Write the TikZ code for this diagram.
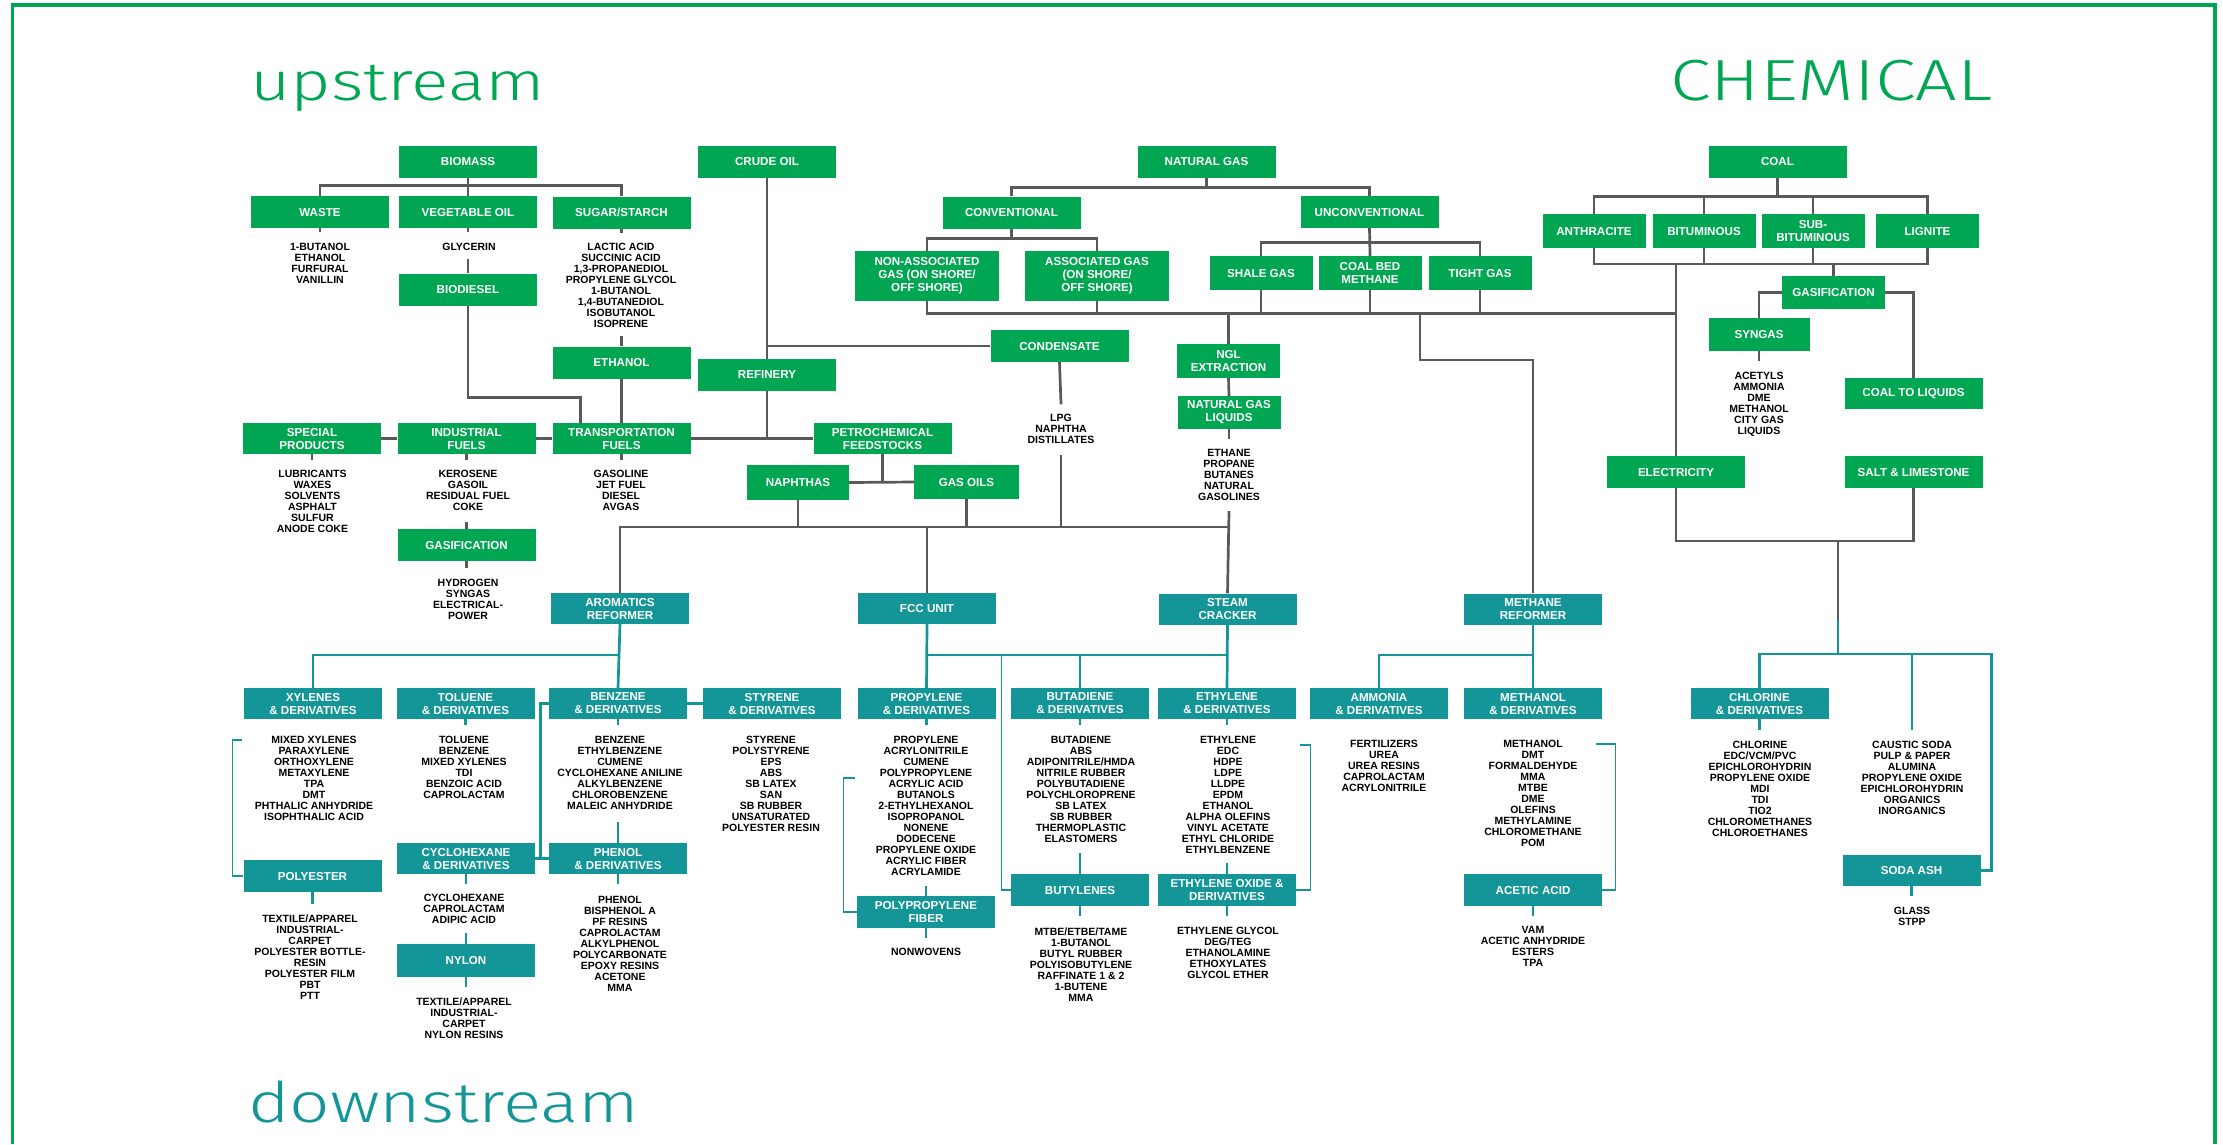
\documentclass[tikz,border=0pt]{standalone}
\usepackage{fontspec}
\setmainfont{Liberation Sans}
\IfFontExistsTF{Fira Sans Book}{\newfontfamily\titlefont{Fira Sans Book}}{%
  \IfFontExistsTF{Fira Sans Light}{\newfontfamily\titlefont{Fira Sans Light}}{\newfontfamily\titlefont{Open Sans}}}
\usetikzlibrary{calc}
\definecolor{upgreen}{RGB}{0,166,81}
\definecolor{downteal}{RGB}{20,150,152}
\definecolor{waygray}{RGB}{88,89,91}
\newcommand{\boxfont}{\fontsize{11.6}{13}\selectfont\bfseries}
\newcommand{\itemfont}{\fontsize{10.5}{11}\selectfont\bfseries}
\tikzset{
  upbox/.style={fill=upgreen, text=white, font=\boxfont, align=center,
    inner sep=0pt, minimum width=138pt, minimum height=32pt},
  upsmall/.style={upbox, minimum width=103pt, minimum height=34pt},
  downbox/.style={upbox, fill=downteal, minimum height=31pt},
  items/.style={font=\itemfont, align=center, inner sep=0pt, anchor=north, yshift=3.7pt},
  way/.style={draw=waygray, line width=2.7pt},
  dway/.style={draw=downteal, line width=2.7pt},
  dthin/.style={draw=downteal, line width=1.3pt},
  headline/.style={inner sep=0pt, anchor=base west},
}
\begin{document}
\begin{tikzpicture}[x=1pt,y=-1pt]
    \useasboundingbox (0,0) rectangle (2223,1144);
    % Frame
    \draw[upgreen, line width=3.3pt] (12.5,1144) -- (12.5,5) -- (2215,5) -- (2215,1144);
    % Titles
    \node[headline, text=upgreen] (up) at (250,100) {\resizebox{295pt}{\height}{\fontsize{54}{60}\titlefont upstream}};
    \node[headline, text=upgreen] (chem) at (1670,100) {\resizebox{322pt}{\height}{\fontsize{58}{64}\titlefont CHEMICAL}};
    \node[headline, text=downteal] (down) at (248,1122) {\resizebox{391pt}{\height}{\fontsize{56}{62}\titlefont downstream}};
    % Points
    \coordinate (gasbus) at (1420,313);
    \coordinate (coalbus) at (1760,264);
    \coordinate (feedbus) at (926,527);
    \coordinate (aromfork) at (620,655);
    \coordinate (saltbus) at (1838,541);
    \coordinate (chlorbus) at (1838,654);
    % Boxes (upstream)
    \node[upbox] (bio) at (468,162) {BIOMASS};
    \node[upbox] (waste) at (320,212) {WASTE};
    \node[upbox] (veg) at (468,212) {VEGETABLE OIL};
    \node[upbox] (sugar) at (621.5,212.5) {SUGAR/STARCH};
    \node[upbox] (biod) at (468,289.5) {BIODIESEL};
    \node[upbox] (ethanol) at (621.5,362.5) {ETHANOL};
    \node[upbox] (crude) at (767,162) {CRUDE OIL};
    \node[upbox] (refinery) at (767,375) {REFINERY};
    \node[upbox] (natgas) at (1206.5,162) {NATURAL GAS};
    \node[upbox] (conv) at (1011.5,212.5) {CONVENTIONAL};
    \node[upbox] (unconv) at (1369.5,212) {UNCONVENTIONAL};
    \node[upbox, minimum width=144pt, minimum height=50pt] (nonassoc) at (927,276) {NON-ASSOCIATED\\GAS (ON SHORE/\\OFF SHORE)};
    \node[upbox, minimum width=144pt, minimum height=50pt] (assoc) at (1097,276) {ASSOCIATED GAS\\(ON SHORE/\\OFF SHORE)};
    \node[upsmall] (shale) at (1261,273) {SHALE GAS};
    \node[upsmall] (cbm) at (1370,273) {COAL BED\\METHANE};
    \node[upsmall] (tight) at (1480,273) {TIGHT GAS};
    \node[upbox] (condensate) at (1059.5,346) {CONDENSATE};
    \node[upsmall] (nglx) at (1228.5,361) {NGL\\EXTRACTION};
    \node[upsmall, minimum height=33pt] (ngl) at (1229,412.5) {NATURAL GAS\\LIQUIDS};
    \node[upbox, minimum height=31pt] (special) at (312,438.5) {SPECIAL\\PRODUCTS};
    \node[upbox, minimum height=31pt] (indfuel) at (466.5,438.5) {INDUSTRIAL\\FUELS};
    \node[upbox, minimum height=31pt] (transp) at (621.5,438.5) {TRANSPORTATION\\FUELS};
    \node[upbox, minimum height=31pt] (petro) at (882.5,438.5) {PETROCHEMICAL\\FEEDSTOCKS};
    \node[upsmall, minimum width=102pt, minimum height=35pt] (naphthas) at (798,482.5) {NAPHTHAS};
    \node[upsmall, minimum width=105pt] (gasoils) at (966.5,482) {GAS OILS};
    \node[upbox] (gasif) at (466.5,545) {GASIFICATION};
    \node[upbox] (coal) at (1777.5,162) {COAL};
    \node[upsmall] (anthr) at (1594,231) {ANTHRACITE};
    \node[upsmall] (bitum) at (1704,231) {BITUMINOUS};
    \node[upsmall] (subbit) at (1813,231) {SUB-\\BITUMINOUS};
    \node[upsmall] (lignite) at (1927.5,231) {LIGNITE};
    \node[upsmall, minimum height=33pt] (cgasif) at (1833.5,292.5) {GASIFICATION};
    \node[upsmall, minimum width=101pt, minimum height=33pt] (syngas) at (1759,334.5) {SYNGAS};
    \node[upbox, minimum height=31pt] (ctl) at (1913.5,393.5) {COAL TO LIQUIDS};
    \node[upbox] (elec) at (1676,472) {ELECTRICITY};
    \node[upbox] (salt) at (1913.5,472) {SALT \& LIMESTONE};
    % Boxes (downstream)
    \node[downbox] (arom) at (620,608.5) {AROMATICS\\REFORMER};
    \node[downbox] (fcc) at (927,608.5) {FCC UNIT};
    \node[downbox] (steam) at (1227.5,609) {STEAM\\CRACKER};
    \node[downbox] (methref) at (1533,609) {METHANE\\REFORMER};
    \node[downbox] (xyl) at (313,703.5) {XYLENES\\\& DERIVATIVES};
    \node[downbox] (tol) at (465.5,703.5) {TOLUENE\\\& DERIVATIVES};
    \node[downbox] (benz) at (618,703.5) {BENZENE\\\& DERIVATIVES};
    \node[downbox] (styr) at (772,703.5) {STYRENE\\\& DERIVATIVES};
    \node[downbox] (prop) at (926.5,703.5) {PROPYLENE\\\& DERIVATIVES};
    \node[downbox] (butad) at (1080,703.5) {BUTADIENE\\\& DERIVATIVES};
    \node[downbox] (ethyl) at (1227,703.5) {ETHYLENE\\\& DERIVATIVES};
    \node[downbox] (ammon) at (1379,703.5) {AMMONIA\\\& DERIVATIVES};
    \node[downbox] (methan) at (1533,703.5) {METHANOL\\\& DERIVATIVES};
    \node[downbox] (chlor) at (1759.5,703.5) {CHLORINE\\\& DERIVATIVES};
    \node[downbox, minimum height=32pt] (polyest) at (312.5,876) {POLYESTER};
    \node[downbox] (cyclo) at (466,858.5) {CYCLOHEXANE\\\& DERIVATIVES};
    \node[downbox] (phenol) at (618,858.5) {PHENOL\\\& DERIVATIVES};
    \node[downbox, minimum height=33pt] (nylon) at (466,960.5) {NYLON};
    \node[downbox, minimum height=32pt] (ppfiber) at (926,912) {POLYPROPYLENE\\FIBER};
    \node[downbox, minimum height=32pt] (butyl) at (1080,890) {BUTYLENES};
    \node[downbox, minimum height=32pt] (eo) at (1227,890) {ETHYLENE OXIDE \&\\DERIVATIVES};
    \node[downbox, minimum height=32pt] (acetic) at (1533,890) {ACETIC ACID};
    \node[downbox] (soda) at (1911.5,870.5) {SODA ASH};
    % Labels
    \node[items] (wastelist) at (320,247) {1-BUTANOL\\ETHANOL\\FURFURAL\\VANILLIN};
    \node[items] (glycerin) at (469,247) {GLYCERIN};
    \node[items] (sugarlist) at (621,247) {LACTIC ACID\\SUCCINIC ACID\\1,3-PROPANEDIOL\\PROPYLENE GLYCOL\\1-BUTANOL\\1,4-BUTANEDIOL\\ISOBUTANOL\\ISOPRENE};
    \node[items] (speclist) at (312.5,474) {LUBRICANTS\\WAXES\\SOLVENTS\\ASPHALT\\SULFUR\\ANODE COKE};
    \node[items] (indlist) at (468,474) {KEROSENE\\GASOIL\\RESIDUAL FUEL\\COKE};
    \node[items] (translist) at (621,474) {GASOLINE\\JET FUEL\\DIESEL\\AVGAS};
    \node[items] (gasiflist) at (468,583) {HYDROGEN\\SYNGAS\\ELECTRICAL-\\POWER};
    \node[items] (lpglist) at (1061,418) {LPG\\NAPHTHA\\DISTILLATES};
    \node[items] (ngllist) at (1229,453) {ETHANE\\PROPANE\\BUTANES\\NATURAL\\GASOLINES};
    \node[items] (synlist) at (1759,376) {ACETYLS\\AMMONIA\\DME\\METHANOL\\CITY GAS\\LIQUIDS};
    \node[items] (xyllist) at (314,740) {MIXED XYLENES\\PARAXYLENE\\ORTHOXYLENE\\METAXYLENE\\TPA\\DMT\\PHTHALIC ANHYDRIDE\\ISOPHTHALIC ACID};
    \node[items] (tollist) at (464,740) {TOLUENE\\BENZENE\\MIXED XYLENES\\TDI\\BENZOIC ACID\\CAPROLACTAM};
    \node[items] (benzlist) at (620,740) {BENZENE\\ETHYLBENZENE\\CUMENE\\CYCLOHEXANE ANILINE\\ALKYLBENZENE\\CHLOROBENZENE\\MALEIC ANHYDRIDE};
    \node[items] (styrlist) at (771,740) {STYRENE\\POLYSTYRENE\\EPS\\ABS\\SB LATEX\\SAN\\SB RUBBER\\UNSATURATED\\POLYESTER RESIN};
    \node[items] (proplist) at (926,740) {PROPYLENE\\ACRYLONITRILE\\CUMENE\\POLYPROPYLENE\\ACRYLIC ACID\\BUTANOLS\\2-ETHYLHEXANOL\\ISOPROPANOL\\NONENE\\DODECENE\\PROPYLENE OXIDE\\ACRYLIC FIBER\\ACRYLAMIDE};
    \node[items] (butadlist) at (1081,740) {BUTADIENE\\ABS\\ADIPONITRILE/HMDA\\NITRILE RUBBER\\POLYBUTADIENE\\POLYCHLOROPRENE\\SB LATEX\\SB RUBBER\\THERMOPLASTIC\\ELASTOMERS};
    \node[items] (ethyllist) at (1228,740) {ETHYLENE\\EDC\\HDPE\\LDPE\\LLDPE\\EPDM\\ETHANOL\\ALPHA OLEFINS\\VINYL ACETATE\\ETHYL CHLORIDE\\ETHYLBENZENE};
    \node[items] (ammonlist) at (1384,744) {FERTILIZERS\\UREA\\UREA RESINS\\CAPROLACTAM\\ACRYLONITRILE};
    \node[items] (methanlist) at (1533,744) {METHANOL\\DMT\\FORMALDEHYDE\\MMA\\MTBE\\DME\\OLEFINS\\METHYLAMINE\\CHLOROMETHANE\\POM};
    \node[items] (chlorlist) at (1760,745) {CHLORINE\\EDC/VCM/PVC\\EPICHLOROHYDRIN\\PROPYLENE OXIDE\\MDI\\TDI\\TIO2\\CHLOROMETHANES\\CHLOROETHANES};
    \node[items] (causticlist) at (1912,745) {CAUSTIC SODA\\PULP \& PAPER\\ALUMINA\\PROPYLENE OXIDE\\EPICHLOROHYDRIN\\ORGANICS\\INORGANICS};
    \node[items] (polylist) at (310,918) {TEXTILE/APPAREL\\INDUSTRIAL-\\CARPET\\POLYESTER BOTTLE-\\RESIN\\POLYESTER FILM\\PBT\\PTT};
    \node[items] (cyclolist) at (464,898) {CYCLOHEXANE\\CAPROLACTAM\\ADIPIC ACID};
    \node[items] (nylonlist) at (464,1001) {TEXTILE/APPAREL\\INDUSTRIAL-\\CARPET\\NYLON RESINS};
    \node[items] (phenollist) at (620,900) {PHENOL\\BISPHENOL A\\PF RESINS\\CAPROLACTAM\\ALKYLPHENOL\\POLYCARBONATE\\EPOXY RESINS\\ACETONE\\MMA};
    \node[items] (ppflist) at (926,952) {NONWOVENS};
    \node[items] (butyllist) at (1081,931) {MTBE/ETBE/TAME\\1-BUTANOL\\BUTYL RUBBER\\POLYISOBUTYLENE\\RAFFINATE 1 \& 2\\1-BUTENE\\MMA};
    \node[items] (eolist) at (1228,931) {ETHYLENE GLYCOL\\DEG/TEG\\ETHANOLAMINE\\ETHOXYLATES\\GLYCOL ETHER};
    \node[items] (aceticlist) at (1533,930) {VAM\\ACETIC ANHYDRIDE\\ESTERS\\TPA};
    \node[items] (sodalist) at (1912,911) {GLASS\\STPP};
    % Ways (upstream)
    \draw[way] (bio.south) -- (veg.north);
    \draw[way] (waste.north) |- ($(bio.south)+(0,7)$) -| (sugar.north);
    \foreach \n in {waste,veg,sugar} \draw[way] (\n.south) -- ++(0,4);
    \draw[way] (biod.north) -- ++(0,-14);
    \draw[way] (ethanol.north) -- ++(0,-10);
    \draw[way] (biod.south) -- ++(0,92) -| ([xshift=-41pt]transp.north);
    \draw[way] (ethanol.south) -- (transp.north);
    \draw[way] (crude.south) -- (refinery.north);
    \draw[way] (crude.south |- condensate.west) -- (condensate.west);
    \draw[way] (refinery.south) -- (refinery.south |- transp.east);
    \draw[way] (special.east) -- (indfuel.west);
    \draw[way] (indfuel.east) -- (transp.west);
    \draw[way] (transp.east) -- (petro.west);
    \foreach \n in {special,indfuel,transp} \draw[way] (\n.south) -- ++(0,6);
    \draw[way] (gasif.north) -- ++(0,-7);
    \draw[way] (gasif.south) -- ++(0,7);
    \draw[way] (petro.south) -- (petro.south |- naphthas.east);
    \draw[way] (naphthas.east) -- (gasoils.west);
    \draw[way] (naphthas.south) -- (naphthas.south |- feedbus);
    \draw[way] (gasoils.south) -- (gasoils.south |- feedbus);
    \draw[way] (condensate.south) -- ([yshift=10pt]lpglist.north);
    \draw[way] ([yshift=-11pt]lpglist.south) -- (lpglist.south |- feedbus);
    \draw[way] (arom.north) |- (steam.north |- feedbus);
    \draw[way] (fcc.north) -- (fcc.north |- feedbus);
    \draw[way] ([yshift=-10pt]ngllist.south) -- (steam.north);
    \draw[way] (natgas.south) -- ++(0,9);
    \draw[way] (conv.north) |- ($(natgas.south)+(0,9)$) -| (unconv.north);
    \draw[way] (conv.south) -- ++(0,10);
    \draw[way] (nonassoc.north) |- ($(conv.south)+(0,10)$) -| (assoc.north);
    \draw[way] (unconv.south) -- (cbm.north);
    \draw[way] (shale.north) |- ($(unconv.south)+(0,14)$) -| (tight.north);
    \draw[way] (nonassoc.south) -- ++(0,12) -| (elec.north);
    \draw[way] (assoc.south) -- ++(0,12);
    \foreach \n in {shale,cbm,tight} \draw[way] (\n.south) -- ++(0,23);
    \draw[way] (nglx.north) -- (nglx.north |- gasbus);
    \draw[way] (nglx.south) -- (ngl.north);
    \draw[way] (ngl.south) -- ++(0,10);
    \draw[way] (gasbus) -- ++(0,47) -| (methref.north);
    \draw[way] (coal.south) -- ++(0,18);
    \draw[way] (anthr.north) |- ($(coal.south)+(0,18)$) -| (lignite.north);
    \draw[way] (bitum.north) -- ++(0,-18);
    \draw[way] (subbit.north) -- ++(0,-18);
    \draw[way] (anthr.south) |- (coalbus) -| (lignite.south);
    \draw[way] (bitum.south) -- ++(0,16);
    \draw[way] (subbit.south) -- ++(0,16);
    \draw[way] (cgasif.north) -- (cgasif.north |- coalbus);
    \draw[way] (elec.north) -- (elec.north |- coalbus);
    \draw[way] (cgasif.west) -| (syngas.north);
    \draw[way] (cgasif.east) -| (ctl.north);
    \draw[way] (syngas.south) -- ++(0,10);
    \draw[way] (elec.south) |- (saltbus) -| (salt.south);
    \draw[way] (saltbus) -- ++(0,79);
    % Ways (downstream)
    \draw[dway] ($(saltbus)+(0,79)$) -- (chlorbus);
    \draw[dway] (arom.south) -- (benz.north);
    \draw[dway] (xyl.north) |- (aromfork);
    \draw[dway] (fcc.south) -- (prop.north);
    \draw[dway] (steam.south) -- (ethyl.north);
    \draw[dway] (fcc.south |- aromfork) -- (steam.south |- aromfork);
    \draw[dway] (butad.north) -- (butad.north |- aromfork);
    \draw[dthin] (butyl.west) -- ++(-9,0) -- ++(0,-235);
    \draw[dway] (methref.south) -- (methan.north);
    \draw[dway] (ammon.north) |- (methref.south |- aromfork);
    \draw[dway] (benz.east) -- (styr.west);
    \draw[dway] (benz.west) -- ++(-8,0) -- ++(0,155);
    \draw[dway] (cyclo.east) -- (phenol.west);
    \foreach \n in {tol,benz,prop,butad,ethyl} \draw[dway] (\n.south) -- ++(0,6);
    \draw[dway] (chlor.south) -- ++(0,11);
    \draw[dthin] (polyest.west) -- ++(-11,0) -- ++(0,-136) -- ++(10,0);
    \draw[dway] (polyest.south) -- ++(0,12);
    \draw[dway] (phenol.north) -- ++(0,-21);
    \foreach \n in {phenol,cyclo,nylon,ppfiber,butyl,eo,acetic,soda} \draw[dway] (\n.south) -- ++(0,10);
    \draw[dway] (nylon.north) -- ++(0,-11);
    \draw[dthin] (ppfiber.west) -- ++(-13,0) -- ++(0,-134) -- ++(11,0);
    \draw[dway] (ppfiber.north) -- ++(0,-10);
    \draw[dway] (butyl.north) -- ++(0,-21);
    \draw[dway] (eo.north) -- ++(0,-11);
    \draw[dthin] (eo.east) -- ++(14,0) -- ++(0,-145) -- ++(-10,0);
    \draw[dthin] (acetic.east) -- ++(13,0) -- ++(0,-146) -- ++(-19,0);
    \draw[dway] (chlor.north) |- (chlorbus) -| ($(soda.east)+(11,0)$) -- (soda.east);
    \draw[dway] (chlorbus -| causticlist.north) -- ([yshift=11pt]causticlist.north);
\end{tikzpicture}
\end{document}
